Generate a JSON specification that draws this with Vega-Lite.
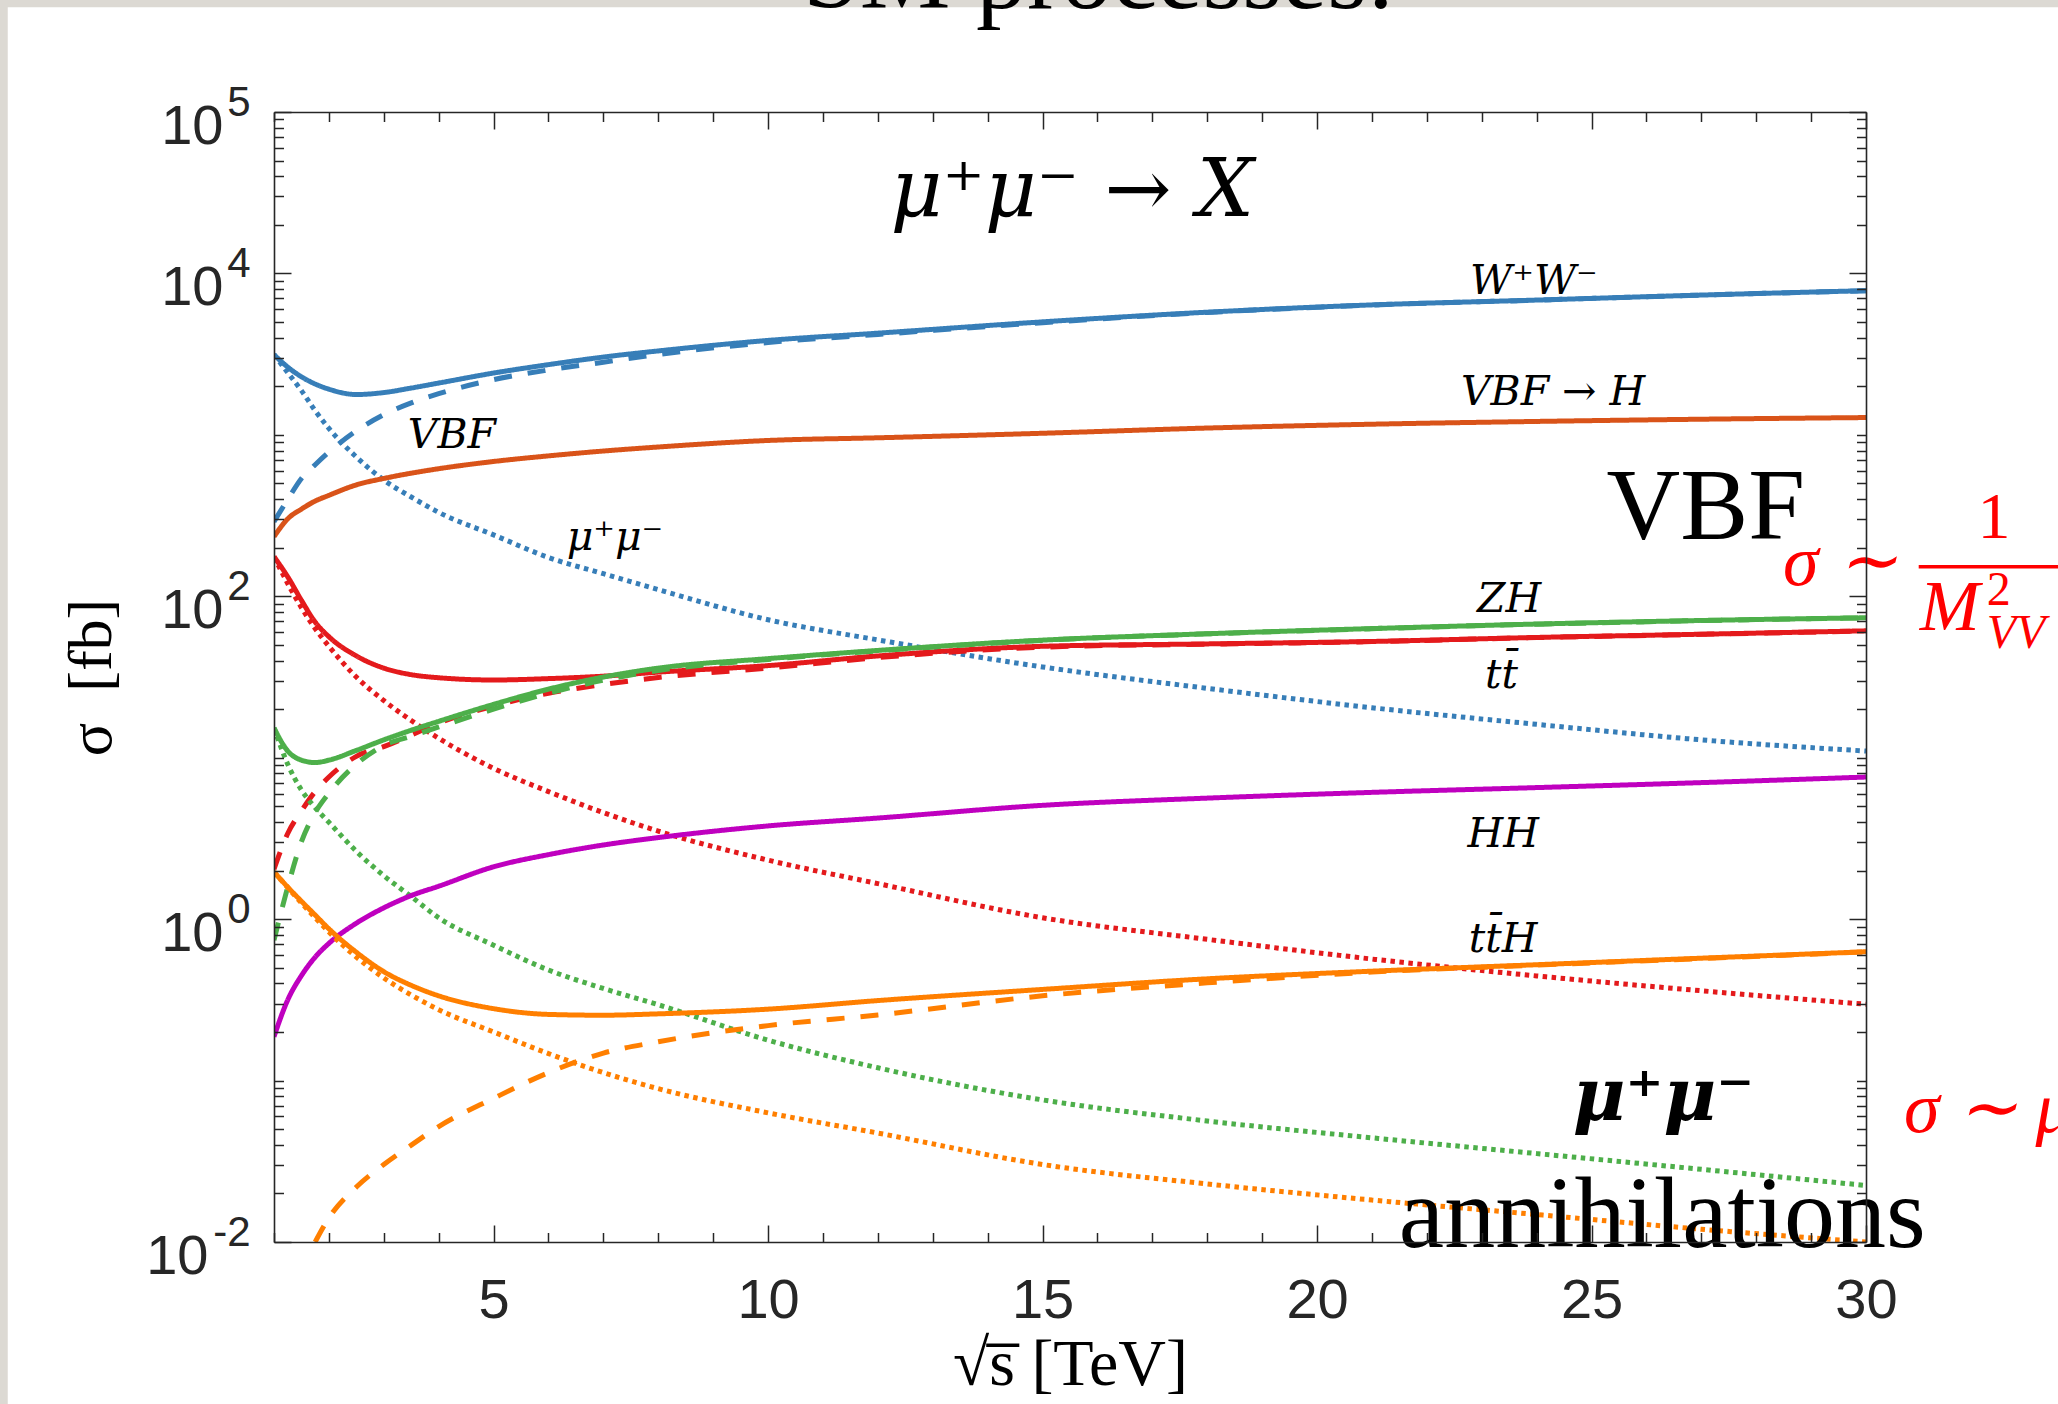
{
  "$schema": "https://vega.github.io/schema/vega-lite/v6.json",
  "width": 1592,
  "height": 1130,
  "autosize": {"type": "none"},
  "padding": {"left": 274, "top": 112, "right": 192, "bottom": 162},
  "background": "#dcd9d3",
  "config": {
    "view": {"stroke": null},
    "axis": {
      "grid": false,
      "domainColor": "#262626",
      "domainWidth": 1.6,
      "tickColor": "#262626",
      "tickWidth": 1.5,
      "labelColor": "#262626",
      "labelFont": "Liberation Sans",
      "labelFlush": false,
      "labelOverlap": false,
      "titleColor": "#000000",
      "titleFont": "Liberation Serif",
      "titleFontWeight": "normal"
    }
  },
  "datasets": {
    "curves": [
      {"s": 1, "WW": 3140, "WW_vbf": 290, "WW_mm": 3140, "VBFH": 234, "ZH": 15.3, "ZH_vbf": 0.741, "ZH_mm": 15.3, "tt": 176, "tt_vbf": 2.04, "tt_mm": 176, "HH": 0.187, "ttH": 1.96, "ttH_mm": 1.96},
      {"s": 1.25, "WW": 2630, "WW_vbf": 398, "WW_mm": 2430, "VBFH": 302, "ZH": 11.0, "ZH_vbf": 1.58, "ZH_mm": 9.12, "tt": 132, "tt_vbf": 3.39, "tt_mm": 120, "HH": 0.316, "ttH": 1.58, "ttH_mm": 1.57},
      {"s": 1.5, "WW": 2290, "WW_vbf": 537, "WW_mm": 1880, "VBFH": 347, "ZH": 9.66, "ZH_vbf": 3.02, "ZH_mm": 6.31, "tt": 94.4, "tt_vbf": 4.68, "tt_mm": 85.1, "HH": 0.447, "ttH": 1.29, "ttH_mm": 1.26},
      {"s": 1.75, "WW": 2065, "WW_vbf": 653, "WW_mm": 1413, "VBFH": 389, "ZH": 9.33, "ZH_vbf": 4.57, "ZH_mm": 4.9, "tt": 69.2, "tt_vbf": 6.17, "tt_mm": 63.1, "HH": 0.582, "ttH": 1.06, "ttH_vbf": 0.01, "ttH_mm": 1.02},
      {"s": 2, "WW": 1919, "WW_vbf": 782, "WW_mm": 1096, "VBFH": 422, "ZH": 9.66, "ZH_vbf": 6.03, "ZH_mm": 3.98, "tt": 56.2, "tt_vbf": 7.59, "tt_mm": 49.0, "HH": 0.708, "ttH": 0.871, "ttH_vbf": 0.0141, "ttH_mm": 0.832},
      {"s": 2.5, "WW": 1778, "WW_vbf": 1059, "WW_mm": 729, "VBFH": 490, "ZH": 11.1, "ZH_vbf": 9.12, "ZH_mm": 2.63, "tt": 42.7, "tt_vbf": 10.2, "tt_mm": 31.6, "HH": 0.944, "ttH": 0.624, "ttH_vbf": 0.0219, "ttH_mm": 0.582},
      {"s": 3, "WW": 1828, "WW_vbf": 1334, "WW_mm": 525, "VBFH": 537, "ZH": 12.9, "ZH_vbf": 11.9, "ZH_mm": 1.86, "tt": 35.9, "tt_vbf": 11.7, "tt_mm": 22.6, "HH": 1.175, "ttH": 0.473, "ttH_vbf": 0.0302, "ttH_mm": 0.432},
      {"s": 3.5, "WW": 1950, "WW_vbf": 1578, "WW_mm": 412, "VBFH": 579, "ZH": 14.8, "ZH_vbf": 13.6, "ZH_mm": 1.38, "tt": 32.7, "tt_vbf": 13.8, "tt_mm": 17.0, "HH": 1.4, "ttH": 0.389, "ttH_vbf": 0.0398, "ttH_mm": 0.339},
      {"s": 4, "WW": 2094, "WW_vbf": 1799, "WW_mm": 331, "VBFH": 617, "ZH": 16.8, "ZH_vbf": 15.5, "ZH_mm": 1.02, "tt": 31.3, "tt_vbf": 16.4, "tt_mm": 13.2, "HH": 1.6, "ttH": 0.335, "ttH_vbf": 0.0519, "ttH_mm": 0.275},
      {"s": 5, "WW": 2415, "WW_vbf": 2198, "WW_mm": 240, "VBFH": 684, "ZH": 21.4, "ZH_vbf": 20.0, "ZH_mm": 0.69, "tt": 30.3, "tt_vbf": 20.9, "tt_mm": 8.59, "HH": 2.11, "ttH": 0.279, "ttH_vbf": 0.0776, "ttH_mm": 0.2},
      {"s": 6, "WW": 2723, "WW_vbf": 2523, "WW_mm": 174, "VBFH": 741, "ZH": 26.6, "ZH_vbf": 25.1, "ZH_mm": 0.484, "tt": 30.9, "tt_vbf": 25.1, "tt_mm": 6.17, "HH": 2.51, "ttH": 0.257, "ttH_vbf": 0.112, "ttH_mm": 0.147},
      {"s": 7, "WW": 3034, "WW_vbf": 2818, "WW_mm": 138, "VBFH": 794, "ZH": 31.6, "ZH_vbf": 30.2, "ZH_mm": 0.372, "tt": 32.0, "tt_vbf": 28.4, "tt_mm": 4.57, "HH": 2.88, "ttH": 0.254, "ttH_vbf": 0.148, "ttH_mm": 0.112},
      {"s": 8, "WW": 3311, "WW_vbf": 3148, "WW_mm": 110, "VBFH": 841, "ZH": 35.9, "ZH_vbf": 34.7, "ZH_mm": 0.295, "tt": 33.9, "tt_vbf": 31.4, "tt_mm": 3.51, "HH": 3.2, "ttH": 0.259, "ttH_vbf": 0.174, "ttH_mm": 0.0891},
      {"s": 10, "WW": 3846, "WW_vbf": 3733, "WW_mm": 71.6, "VBFH": 923, "ZH": 41.1, "ZH_vbf": 40.6, "ZH_mm": 0.178, "tt": 37.2, "tt_vbf": 35.9, "tt_mm": 2.32, "HH": 3.78, "ttH": 0.277, "ttH_vbf": 0.219, "ttH_mm": 0.0631},
      {"s": 12, "WW": 4266, "WW_vbf": 4188, "WW_mm": 53.7, "VBFH": 959, "ZH": 46.2, "ZH_vbf": 45.9, "ZH_mm": 0.12, "tt": 42.7, "tt_vbf": 41.7, "tt_mm": 1.66, "HH": 4.23, "ttH": 0.313, "ttH_vbf": 0.255, "ttH_mm": 0.0473},
      {"s": 15, "WW": 5012, "WW_vbf": 4955, "WW_mm": 36.5, "VBFH": 1023, "ZH": 53.5, "ZH_vbf": 53.3, "ZH_mm": 0.0759, "tt": 49.0, "tt_vbf": 48.4, "tt_mm": 1.02, "HH": 5.07, "ttH": 0.367, "ttH_vbf": 0.335, "ttH_mm": 0.0302},
      {"s": 18, "WW": 5754, "WW_vbf": 5730, "WW_mm": 26.9, "VBFH": 1102, "ZH": 58.6, "ZH_vbf": 58.5, "ZH_mm": 0.0562, "tt": 50.7, "tt_vbf": 50.5, "tt_mm": 0.75, "HH": 5.62, "ttH": 0.427, "ttH_vbf": 0.403, "ttH_mm": 0.0229},
      {"s": 21, "WW": 6383, "WW_vbf": 6370, "WW_mm": 20.4, "VBFH": 1164, "ZH": 63.1, "ZH_vbf": 63.0, "ZH_mm": 0.0442, "tt": 52.5, "tt_vbf": 52.4, "tt_mm": 0.566, "HH": 6.1, "ttH": 0.476, "ttH_vbf": 0.47, "ttH_mm": 0.0182},
      {"s": 24, "WW": 6839, "WW_vbf": 6830, "WW_mm": 16.1, "VBFH": 1211, "ZH": 67.3, "ZH_vbf": 67.2, "ZH_mm": 0.0353, "tt": 55.6, "tt_vbf": 55.5, "tt_mm": 0.445, "HH": 6.53, "ttH": 0.522, "ttH_vbf": 0.519, "ttH_mm": 0.0148},
      {"s": 27, "WW": 7345, "WW_vbf": 7340, "WW_mm": 12.9, "VBFH": 1250, "ZH": 70.8, "ZH_vbf": 70.7, "ZH_mm": 0.0282, "tt": 58.2, "tt_vbf": 58.1, "tt_mm": 0.36, "HH": 7.01, "ttH": 0.573, "ttH_vbf": 0.57, "ttH_mm": 0.012},
      {"s": 30, "WW": 7820, "WW_vbf": 7810, "WW_mm": 11.0, "VBFH": 1280, "ZH": 73.6, "ZH_vbf": 73.5, "ZH_mm": 0.0224, "tt": 61.1, "tt_vbf": 61.0, "tt_mm": 0.297, "HH": 7.59, "ttH": 0.628, "ttH_vbf": 0.627, "ttH_mm": 0.01}
    ],
    "mathLabels": [
      {"s": 23.95, "v": 7500, "t": "W\u207aW\u207b"},
      {"s": 24.3, "v": 1540, "t": "VBF \u2192 H"},
      {"s": 23.5, "v": 79.4, "t": "ZH"},
      {"s": 23.36, "v": 27.0, "t": "tt\u0304"},
      {"s": 23.39, "v": 2.81, "t": "HH"},
      {"s": 23.39, "v": 0.629, "t": "tt\u0304H"},
      {"s": 4.24, "v": 826, "t": "VBF"},
      {"s": 7.21, "v": 194, "t": "\u03bc\u207a\u03bc\u207b"}
    ],
    "heading": [
      {"s": 15.54, "v": 22700, "t": "\u03bc\u207a\u03bc\u207b \u2192 X"}
    ],
    "slideText": [
      {"s": 27.08, "v": 226, "t": "VBF"},
      {"s": 26.29, "v": 0.00935, "t": "annihilations"},
      {"s": 16.03, "v": 440000, "t": "SM processes:"}
    ],
    "boldText": [
      {"s": 26.31, "v": 0.057, "t": "\u03bc\u207a\u03bc\u207b"}
    ],
    "redItalic": [
      {"s": 28.49, "v": 117.5, "t": "\u03c3 \u223c"},
      {"s": 30.98, "v": 61.8, "t": "M"},
      {"s": 30.69, "v": 0.0482, "t": "\u03c3 \u223c \u03bc"}
    ],
    "redUpright": [
      {"s": 32.33, "v": 230, "t": "1"}
    ],
    "redSup": [
      {"s": 32.2, "v": 88.3, "t": "2"}
    ],
    "redSub": [
      {"s": 32.2, "v": 47.9, "t": "VV"}
    ],
    "fractionBar": [
      {"s": 30.96, "s2": 34.5, "v": 152.4}
    ]
  },
  "resolve": {"axis": {"x": "independent", "y": "independent"}},
  "layer": [
    {
      "data": {"values": [{}]},
      "mark": {"type": "rect", "fill": "#ffffff"},
      "encoding": {
        "x": {"datum": -3.85, "type": "quantitative", "scale": {"domain": [1, 30], "nice": false, "zero": false}, "axis": null},
        "x2": {"datum": 33.7},
        "y": {"datum": 446000, "type": "quantitative", "scale": {"type": "log", "domain": [0.01, 100000], "nice": false}, "axis": null},
        "y2": {"datum": 0.0009}
      }
    },
    {
      "data": {"name": "curves"},
      "transform": [
        {"fold": ["WW_mm", "WW_vbf", "WW", "VBFH", "tt_mm", "tt_vbf", "tt", "ZH_mm", "ZH_vbf", "ZH", "HH", "ttH_mm", "ttH_vbf", "ttH"], "as": ["key", "v"]},
        {"filter": {"field": "v", "valid": true}}
      ],
      "mark": {"type": "line", "clip": true, "strokeWidth": 5, "interpolate": "monotone", "strokeCap": "butt"},
      "encoding": {
        "x": {
          "field": "s", "type": "quantitative",
          "scale": {"domain": [1, 30], "nice": false, "zero": false},
          "axis": {
            "orient": "bottom", "zindex": 2, "title": null, "labels": false, "domain": true, "ticks": true,
            "values": [1, 2, 3, 4, 5, 6, 7, 8, 9, 10, 11, 12, 13, 14, 15, 16, 17, 18, 19, 20, 21, 22, 23, 24, 25, 26, 27, 28, 29, 30],
            "tickSize": {"condition": {"test": "datum.value % 5 === 0", "value": -17}, "value": -9.5}
          }
        },
        "y": {
          "field": "v", "type": "quantitative",
          "scale": {"type": "log", "domain": [0.01, 100000], "nice": false},
          "axis": {
            "orient": "left", "zindex": 2, "title": null, "labels": false, "domain": true, "ticks": true,
            "values": [0.01, 0.02, 0.03, 0.04, 0.05, 0.06, 0.07, 0.08, 0.09, 0.1, 0.2, 0.3, 0.4, 0.5, 0.6, 0.7, 0.8, 0.9, 1, 2, 3, 4, 5, 6, 7, 8, 9, 10, 20, 30, 40, 50, 60, 70, 80, 90, 100, 200, 300, 400, 500, 600, 700, 800, 900, 1000, 2000, 3000, 4000, 5000, 6000, 7000, 8000, 9000, 10000, 20000, 30000, 40000, 50000, 60000, 70000, 80000, 90000, 100000],
            "tickSize": {"condition": {"test": "indexof([0.01, 1, 100, 10000, 100000], datum.value) >= 0", "value": -17}, "value": -9.5}
          }
        },
        "color": {
          "field": "key", "type": "nominal", "legend": null,
          "scale": {
            "domain": ["WW_mm", "WW_vbf", "WW", "VBFH", "tt_mm", "tt_vbf", "tt", "ZH_mm", "ZH_vbf", "ZH", "HH", "ttH_mm", "ttH_vbf", "ttH"],
            "range": ["#377eb8", "#377eb8", "#377eb8", "#d95319", "#e41a1c", "#e41a1c", "#e41a1c", "#4daf4a", "#4daf4a", "#4daf4a", "#bf00bf", "#ff7f00", "#ff7f00", "#ff7f00"]
          }
        },
        "strokeDash": {
          "field": "key", "type": "nominal", "legend": null,
          "scale": {
            "domain": ["WW_mm", "WW_vbf", "WW", "VBFH", "tt_mm", "tt_vbf", "tt", "ZH_mm", "ZH_vbf", "ZH", "HH", "ttH_mm", "ttH_vbf", "ttH"],
            "range": [[4.5, 4.5], [18, 16], [1, 0], [1, 0], [4.5, 4.5], [18, 16], [1, 0], [4.5, 4.5], [18, 16], [1, 0], [1, 0], [4.5, 4.5], [18, 16], [1, 0]]
          }
        }
      }
    },
    {
      "data": {"name": "mathLabels"},
      "mark": {"type": "text", "font": "DejaVu Serif", "fontStyle": "italic", "fontSize": 41, "align": "center", "baseline": "alphabetic", "color": "#000000"},
      "encoding": {
        "x": {
          "field": "s", "type": "quantitative",
          "scale": {"domain": [1, 30], "nice": false, "zero": false},
          "axis": {
            "orient": "bottom", "zindex": 2, "values": [5, 10, 15, 20, 25, 30], "format": "d",
            "ticks": false, "tickSize": 0, "domain": false,
            "labelFontSize": 56, "labelPadding": 31, "labelBaseline": "top", "labelAlign": "center",
            "title": "\u221as\u0305 [TeV]", "titleFontSize": 66, "titlePadding": 4
          }
        },
        "y": {
          "field": "v", "type": "quantitative",
          "scale": {"type": "log", "domain": [0.01, 100000], "nice": false},
          "axis": {
            "orient": "left", "zindex": 2, "values": [0.01, 1, 100, 10000, 100000],
            "ticks": false, "tickSize": 0, "domain": false,
            "labelExpr": "'10'", "labelFontSize": 56, "labelAlign": "right", "labelBaseline": "alphabetic", "labelOffset": 31,
            "labelPadding": {"condition": {"test": "datum.value < 0.1", "value": 66}, "value": 51},
            "title": "\u03c3\u00a0 [fb]", "titleFontSize": 62, "titlePadding": 22
          }
        },
        "text": {"field": "t"}
      }
    },
    {
      "data": {"name": "slideText"},
      "mark": {"type": "text", "font": "Liberation Serif", "fontSize": 102, "align": "center", "baseline": "alphabetic", "color": "#000000"},
      "encoding": {
        "x": {
          "field": "s", "type": "quantitative",
          "scale": {"domain": [1, 30], "nice": false, "zero": false},
          "axis": {
            "orient": "top", "zindex": 2, "title": null, "labels": false, "domain": true, "ticks": true,
            "values": [1, 2, 3, 4, 5, 6, 7, 8, 9, 10, 11, 12, 13, 14, 15, 16, 17, 18, 19, 20, 21, 22, 23, 24, 25, 26, 27, 28, 29, 30],
            "tickSize": {"condition": {"test": "datum.value % 5 === 0", "value": -17}, "value": -9.5}
          }
        },
        "y": {
          "field": "v", "type": "quantitative",
          "scale": {"type": "log", "domain": [0.01, 100000], "nice": false},
          "axis": {
            "orient": "left", "zindex": 2, "values": [0.01, 1, 100, 10000, 100000],
            "ticks": false, "tickSize": 0, "domain": false, "title": null,
            "labelExpr": "datum.value < 0.1 ? '-2' : datum.value < 10 ? '0' : datum.value < 1000 ? '2' : datum.value < 50000 ? '4' : '5'",
            "labelFontSize": 42, "labelAlign": "right", "labelBaseline": "alphabetic", "labelOffset": 3, "labelPadding": 24
          }
        },
        "text": {"field": "t"}
      }
    },
    {
      "data": {"name": "boldText"},
      "mark": {"type": "text", "font": "DejaVu Serif", "fontStyle": "italic", "fontWeight": "bold", "fontSize": 72, "align": "center", "baseline": "alphabetic", "color": "#000000"},
      "encoding": {
        "x": {"field": "s", "type": "quantitative", "scale": {"domain": [1, 30], "nice": false, "zero": false}, "axis": null},
        "y": {
          "field": "v", "type": "quantitative",
          "scale": {"type": "log", "domain": [0.01, 100000], "nice": false},
          "axis": {
            "orient": "right", "zindex": 2, "title": null, "labels": false, "domain": true, "ticks": true,
            "values": [0.01, 0.02, 0.03, 0.04, 0.05, 0.06, 0.07, 0.08, 0.09, 0.1, 0.2, 0.3, 0.4, 0.5, 0.6, 0.7, 0.8, 0.9, 1, 2, 3, 4, 5, 6, 7, 8, 9, 10, 20, 30, 40, 50, 60, 70, 80, 90, 100, 200, 300, 400, 500, 600, 700, 800, 900, 1000, 2000, 3000, 4000, 5000, 6000, 7000, 8000, 9000, 10000, 20000, 30000, 40000, 50000, 60000, 70000, 80000, 90000, 100000],
            "tickSize": {"condition": {"test": "indexof([0.01, 1, 100, 10000, 100000], datum.value) >= 0", "value": -17}, "value": -9.5}
          }
        },
        "text": {"field": "t"}
      }
    },
    {
      "data": {"name": "heading"},
      "mark": {"type": "text", "font": "DejaVu Serif", "fontStyle": "italic", "fontSize": 80, "align": "center", "baseline": "alphabetic", "color": "#000000"},
      "encoding": {
        "x": {"field": "s", "type": "quantitative", "scale": {"domain": [1, 30], "nice": false, "zero": false}, "axis": null},
        "y": {"field": "v", "type": "quantitative", "scale": {"type": "log", "domain": [0.01, 100000], "nice": false}, "axis": null},
        "text": {"field": "t"}
      }
    },
    {
      "data": {"name": "redItalic"},
      "mark": {"type": "text", "font": "Liberation Serif", "fontStyle": "italic", "fontSize": 72, "align": "left", "baseline": "alphabetic", "color": "#ff0000"},
      "encoding": {
        "x": {"field": "s", "type": "quantitative", "scale": {"domain": [1, 30], "nice": false, "zero": false}, "axis": null},
        "y": {"field": "v", "type": "quantitative", "scale": {"type": "log", "domain": [0.01, 100000], "nice": false}, "axis": null},
        "text": {"field": "t"}
      }
    },
    {
      "data": {"name": "redUpright"},
      "mark": {"type": "text", "font": "Liberation Serif", "fontSize": 66, "align": "center", "baseline": "alphabetic", "color": "#ff0000"},
      "encoding": {
        "x": {"field": "s", "type": "quantitative", "scale": {"domain": [1, 30], "nice": false, "zero": false}, "axis": null},
        "y": {"field": "v", "type": "quantitative", "scale": {"type": "log", "domain": [0.01, 100000], "nice": false}, "axis": null},
        "text": {"field": "t"}
      }
    },
    {
      "data": {"name": "redSup"},
      "mark": {"type": "text", "font": "Liberation Serif", "fontSize": 48, "align": "left", "baseline": "alphabetic", "color": "#ff0000"},
      "encoding": {
        "x": {"field": "s", "type": "quantitative", "scale": {"domain": [1, 30], "nice": false, "zero": false}, "axis": null},
        "y": {"field": "v", "type": "quantitative", "scale": {"type": "log", "domain": [0.01, 100000], "nice": false}, "axis": null},
        "text": {"field": "t"}
      }
    },
    {
      "data": {"name": "redSub"},
      "mark": {"type": "text", "font": "Liberation Serif", "fontStyle": "italic", "fontSize": 48, "align": "left", "baseline": "alphabetic", "color": "#ff0000"},
      "encoding": {
        "x": {"field": "s", "type": "quantitative", "scale": {"domain": [1, 30], "nice": false, "zero": false}, "axis": null},
        "y": {"field": "v", "type": "quantitative", "scale": {"type": "log", "domain": [0.01, 100000], "nice": false}, "axis": null},
        "text": {"field": "t"}
      }
    },
    {
      "data": {"name": "fractionBar"},
      "mark": {"type": "rule", "color": "#ff0000", "strokeWidth": 3.5},
      "encoding": {
        "x": {"field": "s", "type": "quantitative", "scale": {"domain": [1, 30], "nice": false, "zero": false}, "axis": null},
        "x2": {"field": "s2"},
        "y": {"field": "v", "type": "quantitative", "scale": {"type": "log", "domain": [0.01, 100000], "nice": false}, "axis": null}
      }
    }
  ]
}
